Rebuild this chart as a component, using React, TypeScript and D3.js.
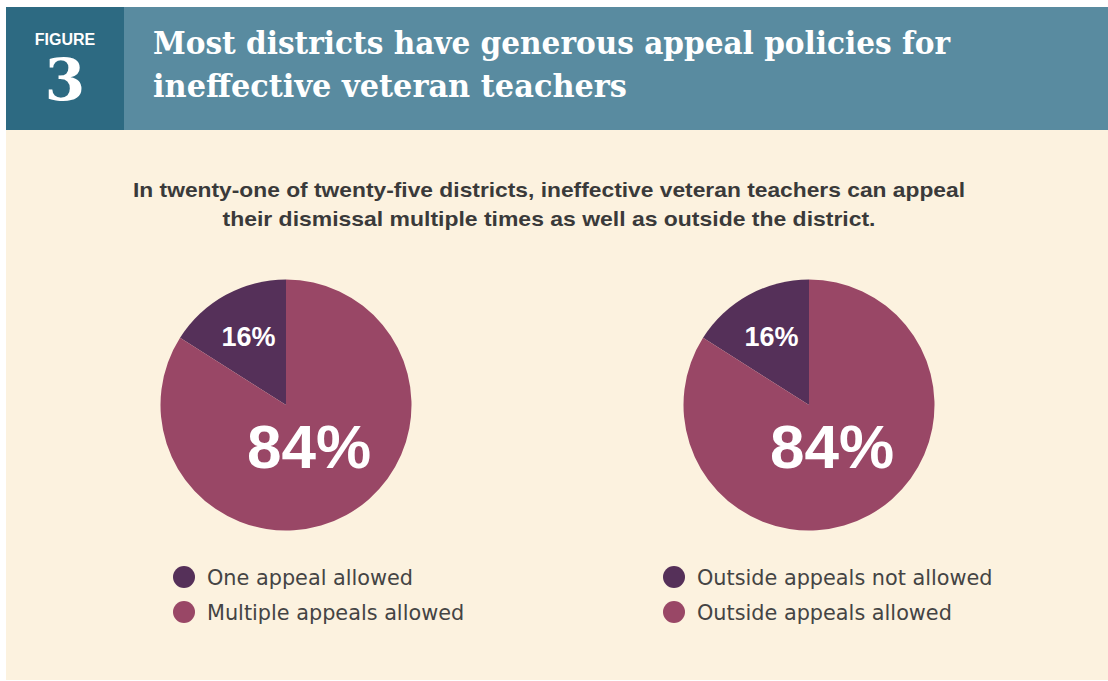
import React from "react";
import * as d3 from "d3";

const figureLabel = "FIGURE";
const figureNumber = "3";
const titleLines = ["Most districts have generous appeal policies for", "ineffective veteran teachers"];
const subtitleLines = [
  "In twenty-one of twenty-five districts, ineffective veteran teachers can appeal",
  "their dismissal multiple times as well as outside the district.",
];
const categoriesA = ["One appeal allowed", "Multiple appeals allowed"];
const valuesA = [16, 84];
const categoriesB = ["Outside appeals not allowed", "Outside appeals allowed"];
const valuesB = [16, 84];
const sliceColors = ["#553059", "#994766"];

const W = 1108;
const H = 681;

function Pie({ cx, cy, r, legendX, values, categories }: { cx: number; cy: number; r: number; legendX: number; values: number[]; categories: string[] }) {
  const total = d3.sum(values);
  const start = (-2 * Math.PI * values[0]) / total;
  const pie = d3
    .pie<number>()
    .sort(null)
    .value((d) => d)
    .startAngle(start)
    .endAngle(start + 2 * Math.PI);
  const arcs = pie(values);
  const arc = d3.arc<d3.PieArcDatum<number>>().innerRadius(0).outerRadius(r);
  const labelRadii = [0.62 * r, 0.38 * r];
  const labelSizes = [27, 62];
  const color = d3.scaleOrdinal<string, string>().domain(categories).range(sliceColors);
  return (
    <g>
      <g transform={`translate(${cx},${cy})`}>
        {arcs.map((a, i) => (
          <path key={i} d={arc(a) || ""} fill={color(categories[i])} />
        ))}
        {arcs.map((a, i) => {
          const la = d3.arc<d3.PieArcDatum<number>>().innerRadius(labelRadii[i]).outerRadius(labelRadii[i]);
          const [x, y] = la.centroid(a);
          return (
            <text
              key={"l" + i}
              x={x}
              y={y}
              textAnchor="middle"
              dominantBaseline="central"
              fill="#fff"
              fontFamily="'Liberation Sans', Arial, sans-serif"
              fontWeight="bold"
              fontSize={labelSizes[i]}
            >
              {a.data}%
            </text>
          );
        })}
      </g>
      <g transform={`translate(${legendX},${cy + 172})`}>
        {categories.map((c, i) => (
          <g key={c} transform={`translate(0,${i * 35})`}>
            <circle cx={0} cy={0} r={11} fill={color(c)} />
            <text x={23} y={1} dominantBaseline="central" fill="#444" fontFamily="'DejaVu Sans', sans-serif" fontSize={20.8}>
              {c}
            </text>
          </g>
        ))}
      </g>
    </g>
  );
}

export default function App() {
  return (
    <svg width={W} height={H} style={{ position: "absolute", left: 0, top: 0, display: "block" }}>
      <rect x={0} y={0} width={W} height={H} fill="#fff" />
      <rect x={6} y={130} width={W - 6} height={H - 131} fill="#fcf2df" />
      <rect x={6} y={7} width={W - 6} height={123} fill="#598ba0" />
      <rect x={6} y={7} width={118} height={123} fill="#2d6a82" />
      <text x={65} y={45} textAnchor="middle" fill="#fff" fontFamily="'Liberation Sans', Arial, sans-serif" fontWeight="bold" fontSize={16}>
        {figureLabel}
      </text>
      <text x={65} y={100} textAnchor="middle" fill="#fff" fontFamily="'DejaVu Serif', serif" fontWeight="bold" fontSize={58}>
        {figureNumber}
      </text>
      {titleLines.map((t, i) => (
        <text
          key={t}
          x={153}
          y={54 + i * 43}
          fill="#fff"
          fontFamily="'DejaVu Serif', serif"
          fontWeight="bold"
          fontSize={31}
          textLength={i === 0 ? 797 : 474}
          lengthAdjust="spacingAndGlyphs"
        >
          {t}
        </text>
      ))}
      {subtitleLines.map((t, i) => (
        <text
          key={t}
          x={549}
          y={197 + i * 29}
          textAnchor="middle"
          fill="#3a3a3a"
          fontFamily="'Liberation Sans', Arial, sans-serif"
          fontWeight="bold"
          fontSize={21}
          textLength={i === 0 ? 832 : 653}
          lengthAdjust="spacingAndGlyphs"
        >
          {t}
        </text>
      ))}
      <Pie cx={286} cy={405} r={125.5} legendX={184} values={valuesA} categories={categoriesA} />
      <Pie cx={809} cy={405} r={125.5} legendX={674} values={valuesB} categories={categoriesB} />
    </svg>
  );
}
